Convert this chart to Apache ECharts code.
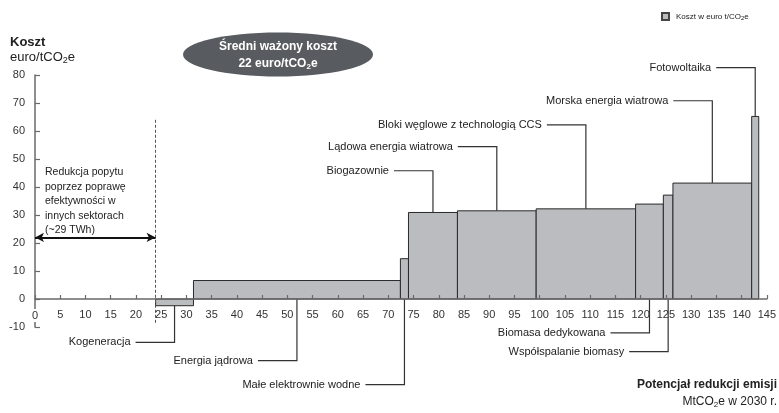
<!DOCTYPE html>
<html>
<head>
<meta charset="utf-8">
<script src="https://cdn.jsdelivr.net/npm/echarts@6/dist/echarts.min.js"></script>
<style>
  html, body { margin: 0; padding: 0; background: #fff; }
  #chart { width: 779px; height: 413px; }
</style>
</head>
<body>
<div id="chart"></div>
<script>
// Abatement measures, ordered by cost
const measures = [
  'Kogeneracja', 'Energia jądrowa', 'Małe elektrownie wodne', 'Biogazownie',
  'Lądowa energia wiatrowa', 'Bloki węglowe z technologią CCS', 'Biomasa dedykowana',
  'Współspalanie biomasy', 'Morska energia wiatrowa', 'Fotowoltaika'
];
// Abatement potential of each measure, MtCO2e in 2030
const potentials = [7.5, 41.0, 1.6, 9.7, 15.6, 19.7, 5.5, 1.9, 15.6, 1.4];
// Abatement cost of each measure, euro/tCO2e
const costs = [-2.4, 6.6, 14.4, 30.9, 31.5, 32.2, 33.9, 37.1, 41.4, 65.2];
// Potential from demand reduction in other sectors (~29 TWh), MtCO2e
const demandReduction = 23.9;
// Weighted average cost, euro/tCO2e
const averageCost = 22;

// Axis ranges
const xRange = { min: 0, max: 145, interval: 5 };
const yRange = { min: -10, max: 80, interval: 10 };

// Callout layout: which side of the axis and the level (in cost units) of each leader line
const calloutSide = ['below', 'below', 'below', 'above', 'above', 'above', 'below', 'below', 'above', 'above'];
const calloutLevel = [-15.5, -22.0, -30.6, 45.8, 54.4, 62.2, -12.1, -18.8, 70.8, 82.6];

// Build [start, end, cost, index] rows from the cumulative potential
const rows = [];
let cursor = demandReduction;
potentials.forEach((p, i) => {
  rows.push([cursor, +(cursor + p).toFixed(2), costs[i], i]);
  cursor += p;
});

const TEXT = '#222';
const AXIS = '#6a6a6a';
const FONT = 'Liberation Sans, Arial, sans-serif';
const GRID = { left: 35, top: 75, width: 735, height: 252 };
// Lift the horizontal axis from the bottom of the plot up to the zero line
const zeroOffset = -(0 - yRange.min) / (yRange.max - yRange.min) * GRID.height;

const chart = echarts.init(document.getElementById('chart'), null, { renderer: 'canvas' });

function renderStep(params, api) {
  const start = api.value(0), end = api.value(1), cost = api.value(2), idx = api.value(3);
  const p0 = api.coord([start, cost]);
  const p1 = api.coord([end, 0]);
  const rect = {
    type: 'rect',
    shape: { x: p0[0], y: Math.min(p0[1], p1[1]), width: p1[0] - p0[0], height: Math.abs(p1[1] - p0[1]) },
    style: { fill: '#bbbcbf', stroke: '#2a2a2a', lineWidth: 1 }
  };
  // Leader line from the middle of the step to its label
  const mid = (start + end) / 2;
  const anchor = calloutSide[idx] === 'above' ? api.coord([mid, cost]) : api.coord([mid, Math.min(cost, 0)]);
  const elbow = api.coord([mid, calloutLevel[idx]]);
  const lineLen = 39;
  const leader = {
    type: 'polyline',
    shape: { points: [anchor, elbow, [elbow[0] - lineLen, elbow[1]]] },
    style: { stroke: '#333', lineWidth: 1.2, fill: null },
    z2: 5
  };
  const label = {
    type: 'text',
    x: elbow[0] - lineLen - 5,
    y: elbow[1],
    style: {
      text: measures[idx], align: 'right', verticalAlign: 'middle',
      font: '11px ' + FONT, fill: TEXT
    },
    z2: 5
  };
  return { type: 'group', children: [rect, leader, label] };
}

const option = {
  animation: false,
  backgroundColor: '#fff',
  textStyle: { fontFamily: FONT },
  grid: Object.assign({ containLabel: false }, GRID),
  legend: {
    left: 656, top: 7,
    icon: 'rect', itemWidth: 7, itemHeight: 7, itemGap: 6,
    formatter: () => '{t|Koszt w euro t/CO}{s|2}{t|e}',
    textStyle: {
      padding: [0, 0, 0, 2],
      rich: {
        t: { fontSize: 8, color: TEXT, fontFamily: FONT },
        s: { fontSize: 6, color: TEXT, fontFamily: FONT, padding: [4, 0, 0, 0] }
      }
    },
    data: ['Koszt w euro t/CO2e']
  },
  xAxis: {
    type: 'value', min: xRange.min, max: xRange.max, interval: xRange.interval,
    position: 'bottom', offset: zeroOffset, z: 3,
    axisLine: { onZero: false, lineStyle: { color: AXIS, width: 1.5 } },
    axisTick: { inside: true, length: 4, lineStyle: { color: AXIS, width: 1.2 } },
    axisLabel: {
      margin: 10, fontSize: 11, color: '#333', fontFamily: FONT,
      // the origin label sits on top of the vertical axis
      formatter: (v) => (v === 0 ? '{o|0}' : String(v)),
      rich: { o: { fontSize: 11, color: '#333', backgroundColor: '#fff', padding: [1, 0, 1, 0] } }
    },
    splitLine: { show: false }
  },
  yAxis: {
    type: 'value', min: yRange.min, max: yRange.max, interval: yRange.interval,
    z: 2,
    axisLine: { show: true, lineStyle: { color: AXIS, width: 1.5 } },
    axisTick: { show: true, inside: true, length: 5, lineStyle: { color: AXIS, width: 1.2 } },
    axisLabel: { margin: 10, fontSize: 11, color: '#333', fontFamily: FONT },
    splitLine: { show: false }
  },
  series: [{
    name: 'Koszt w euro t/CO2e',
    type: 'custom',
    renderItem: renderStep,
    encode: { x: [0, 1], y: 2 },
    itemStyle: { color: '#bbbcbf', borderColor: '#444', borderWidth: 1 },
    data: rows,
    clip: false,
    markLine: {
      silent: true,
      label: { show: false },
      data: [
        // Boundary of the demand-reduction potential
        [
          { coord: [demandReduction, 64], symbol: 'none', lineStyle: { type: [3, 2], color: '#555', width: 1 } },
          { coord: [demandReduction, -9], symbol: 'none' }
        ],
        // Span of the demand-reduction potential, drawn at the weighted average cost
        [
          { coord: [xRange.min, averageCost], symbol: 'arrow', symbolSize: [7, 9], lineStyle: { type: 'solid', color: '#111', width: 2 } },
          { coord: [demandReduction, averageCost], symbol: 'arrow', symbolSize: [7, 9] }
        ]
      ]
    }
  }],
  graphic: [
    {
      type: 'text', left: 10, top: 36,
      style: {
        text: '{b|Koszt}\n{t|euro/tCO}{s|2}{t|e}',
        rich: {
          b: { font: 'bold 13px ' + FONT, fill: TEXT, lineHeight: 15 },
          t: { font: '13px ' + FONT, fill: TEXT, lineHeight: 15 },
          s: { font: '9px ' + FONT, fill: TEXT, padding: [6, 0, 0, 0] }
        }
      }
    },
    {
      type: 'ellipse',
      shape: { cx: 278, cy: 54.5, rx: 95, ry: 22 },
      style: { fill: '#585b5f' }
    },
    {
      type: 'text', x: 278, y: 55,
      style: {
        text: '{t|Średni ważony koszt}\n{t|22 euro/tCO}{s|2}{t|e}',
        align: 'center', verticalAlign: 'middle',
        rich: {
          t: { font: 'bold 12px ' + FONT, fill: '#fff', lineHeight: 17, align: 'center' },
          s: { font: 'bold 8px ' + FONT, fill: '#fff', padding: [6, 0, 0, 0], align: 'center' }
        }
      }
    },
    {
      type: 'text', left: 45, top: 165,
      style: {
        text: 'Redukcja popytu\npoprzez poprawę\nefektywności w\ninnych sektorach\n(~29 TWh)',
        font: '10.5px ' + FONT, fill: TEXT, lineHeight: 14.5
      }
    },
    {
      type: 'text', right: 2, top: 379,
      style: {
        text: '{b|Potencjał redukcji emisji}\n{t|MtCO}{s|2}{t|e w 2030 r.}',
        align: 'right',
        rich: {
          b: { font: 'bold 12px ' + FONT, fill: TEXT, lineHeight: 17, align: 'right' },
          t: { font: '12px ' + FONT, fill: TEXT, lineHeight: 17, align: 'right' },
          s: { font: '8px ' + FONT, fill: TEXT, padding: [6, 0, 0, 0], align: 'right' }
        }
      }
    }
  ]
};

chart.setOption(option);
</script>
</body>
</html>
